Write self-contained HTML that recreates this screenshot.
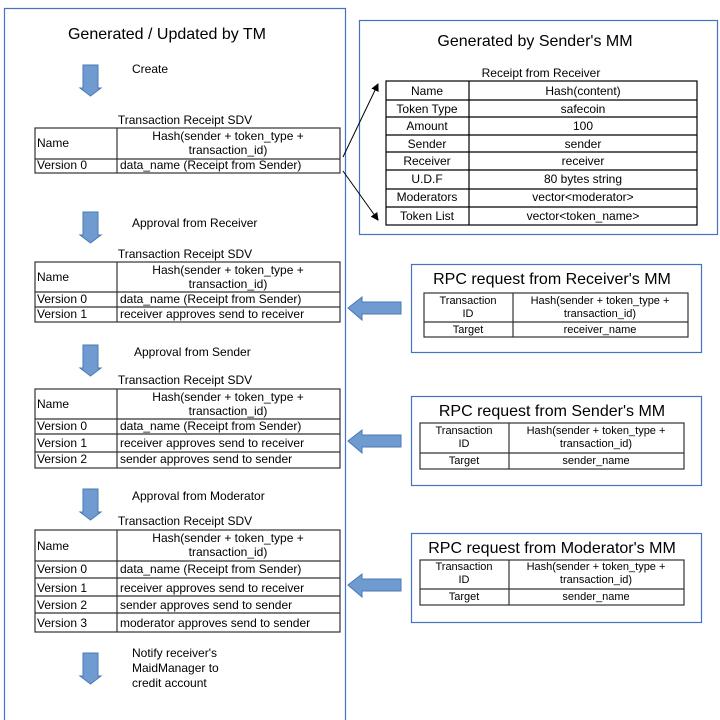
<!DOCTYPE html>
<html><head><meta charset="utf-8"><style>
html,body{margin:0;padding:0;background:#fff;width:720px;height:720px;overflow:hidden}
svg{display:block}
text{font-family:"Liberation Sans",Arial,sans-serif;fill:#000}
</style></head><body>
<svg width="720" height="720" viewBox="0 0 720 720" xmlns="http://www.w3.org/2000/svg">
<defs>
<marker id="ah" markerWidth="8" markerHeight="8" refX="7" refY="4" orient="auto" markerUnits="userSpaceOnUse">
<path d="M0,0 L8,4 L0,8 z" fill="#000"/></marker>
<g id="down"><path d="M83,0 H98 V23 H101 L90.5,31 L80,23 H83 Z" fill="#6f9bd1" stroke="#4a78b8" stroke-width="1"/></g>
<g id="left"><path d="M0,11 L14,0 V5 H53 V17 H14 V23 Z" fill="#6f9bd1" stroke="#4a78b8" stroke-width="1"/></g>
</defs>

<!-- containers -->
<path d="M4.5,720 V8.5 H345.5 V720" fill="none" stroke="#4472c4" stroke-width="1.2"/>
<rect x="359.5" y="20.5" width="358" height="214" fill="none" stroke="#4472c4" stroke-width="1.2"/>
<rect x="411.5" y="264.5" width="290" height="88" fill="none" stroke="#4472c4" stroke-width="1.2"/>
<rect x="411.5" y="396.5" width="290" height="89" fill="none" stroke="#4472c4" stroke-width="1.2"/>
<rect x="411.5" y="533.5" width="290" height="89" fill="none" stroke="#4472c4" stroke-width="1.2"/>

<text x="167" y="39" font-size="16" text-anchor="middle">Generated / Updated by TM</text>

<!-- down arrows -->
<use href="#down" y="65"/>
<use href="#down" y="212"/>
<use href="#down" y="345"/>
<use href="#down" y="489"/>
<use href="#down" y="653"/>

<g font-size="12">
<text x="132" y="73">Create</text>
<text x="132" y="227">Approval from Receiver</text>
<text x="134" y="356">Approval from Sender</text>
<text x="132" y="500">Approval from Moderator</text>
<text x="132" y="657">Notify receiver's</text>
<text x="132" y="672">MaidManager to</text>
<text x="132" y="687">credit account</text>
</g>

<!-- SDV tables -->
<g font-size="12" stroke="#333" stroke-width="1.2" fill="none">
<rect x="35" y="128" width="305" height="45"/><line x1="117" y1="128" x2="117" y2="173"/><line x1="35" y1="159" x2="340" y2="159"/>
<rect x="35" y="262" width="305" height="60"/><line x1="117" y1="262" x2="117" y2="322"/><line x1="35" y1="292" x2="340" y2="292"/><line x1="35" y1="307" x2="340" y2="307"/>
<rect x="35" y="389" width="305" height="79"/><line x1="117" y1="389" x2="117" y2="468"/><line x1="35" y1="419" x2="340" y2="419"/><line x1="35" y1="434" x2="340" y2="434"/><line x1="35" y1="452" x2="340" y2="452"/>
<rect x="35" y="530" width="305" height="102"/><line x1="117" y1="530" x2="117" y2="632"/><line x1="35" y1="561" x2="340" y2="561"/><line x1="35" y1="578" x2="340" y2="578"/><line x1="35" y1="596" x2="340" y2="596"/><line x1="35" y1="613" x2="340" y2="613"/>
</g>
<g font-size="12">
<text x="185" y="124" text-anchor="middle">Transaction Receipt SDV</text>
<text x="37" y="147">Name</text>
<text x="228" y="140" text-anchor="middle">Hash(sender + token_type +</text>
<text x="228" y="154" text-anchor="middle">transaction_id)</text>
<text x="37" y="169">Version 0</text><text x="120" y="169">data_name (Receipt from Sender)</text>

<text x="185" y="258" text-anchor="middle">Transaction Receipt SDV</text>
<text x="37" y="281">Name</text>
<text x="228" y="274" text-anchor="middle">Hash(sender + token_type +</text>
<text x="228" y="288" text-anchor="middle">transaction_id)</text>
<text x="37" y="303">Version 0</text><text x="120" y="303">data_name (Receipt from Sender)</text>
<text x="37" y="318">Version 1</text><text x="120" y="318">receiver approves send to receiver</text>

<text x="185" y="384" text-anchor="middle">Transaction Receipt SDV</text>
<text x="37" y="408">Name</text>
<text x="228" y="401" text-anchor="middle">Hash(sender + token_type +</text>
<text x="228" y="415" text-anchor="middle">transaction_id)</text>
<text x="37" y="430">Version 0</text><text x="120" y="430">data_name (Receipt from Sender)</text>
<text x="37" y="447">Version 1</text><text x="120" y="447">receiver approves send to receiver</text>
<text x="37" y="463">Version 2</text><text x="120" y="463">sender approves send to sender</text>

<text x="185" y="525" text-anchor="middle">Transaction Receipt SDV</text>
<text x="37" y="550">Name</text>
<text x="228" y="542" text-anchor="middle">Hash(sender + token_type +</text>
<text x="228" y="556" text-anchor="middle">transaction_id)</text>
<text x="37" y="573">Version 0</text><text x="120" y="573">data_name (Receipt from Sender)</text>
<text x="37" y="592">Version 1</text><text x="120" y="592">receiver approves send to receiver</text>
<text x="37" y="609">Version 2</text><text x="120" y="609">sender approves send to sender</text>
<text x="37" y="627">Version 3</text><text x="120" y="627">moderator approves send to sender</text>
</g>

<!-- Sender's MM -->
<text x="535" y="46" font-size="16" text-anchor="middle">Generated by Sender's MM</text>
<text x="541" y="77" font-size="12" text-anchor="middle">Receipt from Receiver</text>
<g stroke="#000" stroke-width="1.2" fill="none">
<rect x="386" y="81" width="311" height="144"/>
<line x1="469" y1="81" x2="469" y2="225"/>
<line x1="386" y1="100" x2="697" y2="100"/><line x1="386" y1="117" x2="697" y2="117"/>
<line x1="386" y1="135" x2="697" y2="135"/><line x1="386" y1="152" x2="697" y2="152"/>
<line x1="386" y1="170" x2="697" y2="170"/><line x1="386" y1="189" x2="697" y2="189"/>
<line x1="386" y1="207" x2="697" y2="207"/>
</g>
<g font-size="12" text-anchor="middle">
<text x="427" y="95">Name</text><text x="583" y="95">Hash(content)</text>
<text x="427" y="113">Token Type</text><text x="583" y="113">safecoin</text>
<text x="427" y="130">Amount</text><text x="583" y="130">100</text>
<text x="427" y="148">Sender</text><text x="583" y="148">sender</text>
<text x="427" y="165">Receiver</text><text x="583" y="165">receiver</text>
<text x="427" y="183">U.D.F</text><text x="583" y="183">80 bytes string</text>
<text x="427" y="201">Moderators</text><text x="583" y="201">vector&lt;moderator&gt;</text>
<text x="427" y="220">Token List</text><text x="583" y="220">vector&lt;token_name&gt;</text>
</g>
<line x1="343" y1="157" x2="378" y2="84" stroke="#000" stroke-width="1" marker-end="url(#ah)"/>
<line x1="343" y1="171" x2="378" y2="220" stroke="#000" stroke-width="1" marker-end="url(#ah)"/>

<!-- left arrows -->
<use href="#left" x="348" y="297"/>
<use href="#left" x="348" y="430"/>
<use href="#left" x="348" y="574"/>

<!-- RPC boxes -->
<g font-size="16" text-anchor="middle">
<text x="552" y="284">RPC request from Receiver's MM</text>
<text x="552" y="416">RPC request from Sender's MM</text>
<text x="552" y="553">RPC request from Moderator's MM</text>
</g>
<g stroke="#333" stroke-width="1.2" fill="none">
<rect x="424" y="293" width="264" height="44"/><line x1="513" y1="293" x2="513" y2="337"/><line x1="424" y1="322" x2="688" y2="322"/>
<rect x="420" y="423" width="264" height="46"/><line x1="509" y1="423" x2="509" y2="469"/><line x1="420" y1="453" x2="684" y2="453"/>
<rect x="420" y="560" width="264" height="45"/><line x1="509" y1="560" x2="509" y2="605"/><line x1="420" y1="589" x2="684" y2="589"/>
</g>
<g font-size="11" text-anchor="middle" fill="#222">
<text x="468" y="304">Transaction</text><text x="468" y="317">ID</text>
<text x="600" y="304">Hash(sender + token_type +</text><text x="600" y="317">transaction_id)</text>
<text x="468" y="333">Target</text><text x="600" y="333">receiver_name</text>

<text x="464" y="434">Transaction</text><text x="464" y="447">ID</text>
<text x="596" y="434">Hash(sender + token_type +</text><text x="596" y="447">transaction_id)</text>
<text x="464" y="464">Target</text><text x="596" y="464">sender_name</text>

<text x="464" y="570">Transaction</text><text x="464" y="583">ID</text>
<text x="596" y="570">Hash(sender + token_type +</text><text x="596" y="583">transaction_id)</text>
<text x="464" y="600">Target</text><text x="596" y="600">sender_name</text>
</g>
</svg>
</body></html>
